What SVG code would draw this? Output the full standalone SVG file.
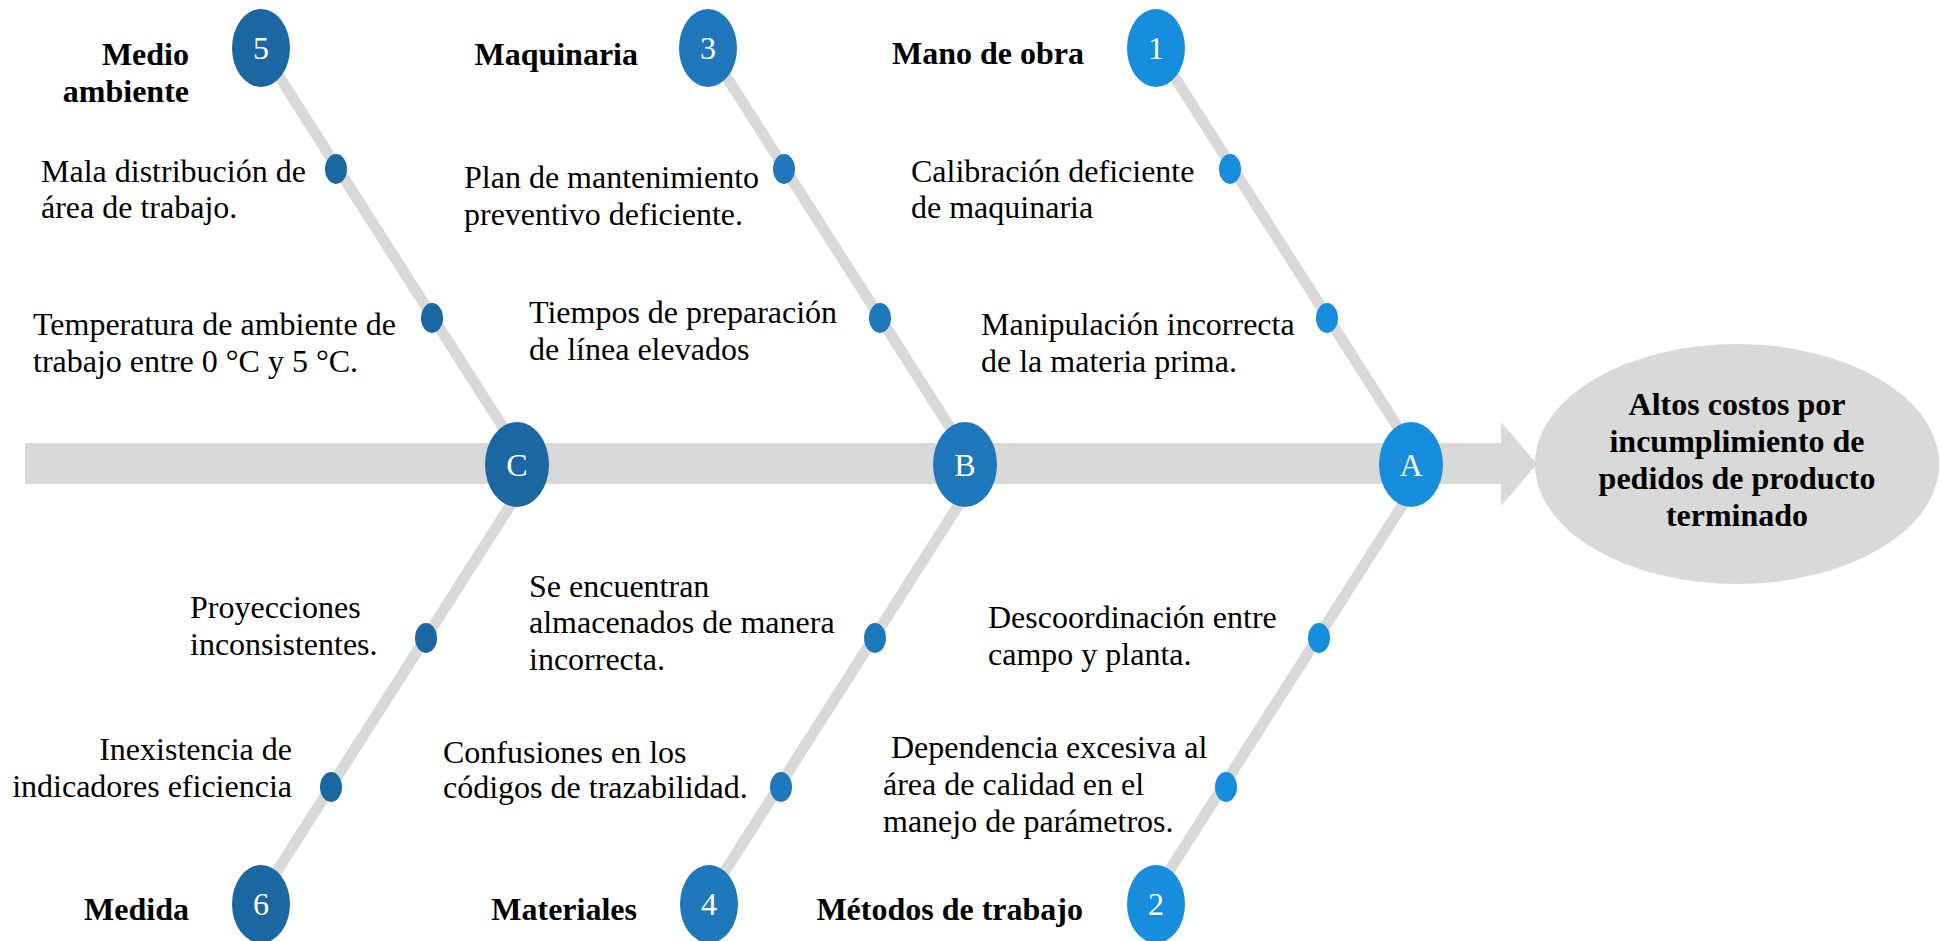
<svg xmlns="http://www.w3.org/2000/svg" width="1941" height="941" viewBox="0 0 1941 941">
<style>
.bone{stroke:#d9d9d9;stroke-width:11;fill:none}
.t{font-family:"Liberation Serif","Times New Roman",serif;font-size:32px;fill:#000}
.b{font-family:"Liberation Serif","Times New Roman",serif;font-size:32px;font-weight:bold;fill:#000}
.n{font-family:"Liberation Serif","Times New Roman",serif;font-size:32px;fill:#fff;text-anchor:middle}
.e{text-anchor:end}
.c1{fill:#178ddd}
.c3{fill:#1f78bc}
.c5{fill:#1b67a2}
</style>
<rect width="1941" height="941" fill="#fff"/>
<g id="connectors">
<path id="spine" d="M25,443 H1501 V422 L1537,464 L1501,506 V484 H25 Z" fill="#d9d9d9"/>
<line class="bone" x1="261" y1="48" x2="527" y2="465"/>
<line class="bone" x1="708" y1="48" x2="974" y2="465"/>
<line class="bone" x1="1156" y1="48" x2="1422" y2="465"/>
<line class="bone" x1="536" y1="465" x2="256" y2="904"/>
<line class="bone" x1="984" y1="465" x2="704" y2="904"/>
<line class="bone" x1="1428" y1="465" x2="1148" y2="904"/>
</g>
<g id="effect">
<ellipse cx="1737" cy="464" rx="202" ry="120" fill="#d9d9d9"/>
<text class="b" text-anchor="middle"><tspan x="1737" y="415">Altos costos por</tspan><tspan x="1737" y="452">incumplimiento de</tspan><tspan x="1737" y="489">pedidos de producto</tspan><tspan x="1737" y="526">terminado</tspan></text>
</g>
<g id="nodeA"><ellipse class="c1" cx="1411" cy="464.5" rx="32" ry="42.5"/><text class="n" x="1411" y="476">A</text></g>
<g id="nodeB"><ellipse class="c3" cx="965" cy="464.5" rx="32" ry="42.5"/><text class="n" x="965" y="476">B</text></g>
<g id="nodeC"><ellipse class="c5" cx="517" cy="464.5" rx="32" ry="42.5"/><text class="n" x="517" y="476">C</text></g>
<g id="cat1"><ellipse class="c1" cx="1156" cy="48" rx="29" ry="39"/><text class="n" x="1156" y="59">1</text><text class="b e" x="1084" y="64">Mano de obra</text></g>
<g id="cat3"><ellipse class="c3" cx="708" cy="48" rx="29" ry="39"/><text class="n" x="708" y="59">3</text><text class="b e" x="638" y="65">Maquinaria</text></g>
<g id="cat5"><ellipse class="c5" cx="261" cy="48" rx="29" ry="39"/><text class="n" x="261" y="59">5</text><text class="b e"><tspan x="189" y="65">Medio</tspan><tspan x="189" y="102">ambiente</tspan></text></g>
<g id="cat2"><ellipse class="c1" cx="1156" cy="904" rx="29" ry="39"/><text class="n" x="1156" y="915">2</text><text class="b e" x="1083" y="920">Métodos de trabajo</text></g>
<g id="cat4"><ellipse class="c3" cx="709" cy="904" rx="29" ry="39"/><text class="n" x="709" y="915">4</text><text class="b e" x="637" y="920">Materiales</text></g>
<g id="cat6"><ellipse class="c5" cx="261" cy="904" rx="29" ry="39"/><text class="n" x="261" y="915">6</text><text class="b e" x="189" y="920">Medida</text></g>
<g id="cause5a"><ellipse class="c5" cx="336" cy="169" rx="11" ry="15"/><text class="t"><tspan x="41" y="182">Mala distribución de</tspan><tspan x="41" y="218">área de trabajo.</tspan></text></g>
<g id="cause5b"><ellipse class="c5" cx="432" cy="318" rx="11" ry="15"/><text class="t"><tspan x="33" y="335">Temperatura de ambiente de</tspan><tspan x="33" y="372">trabajo entre 0 °C y 5 °C.</tspan></text></g>
<g id="cause3a"><ellipse class="c3" cx="784" cy="169" rx="11" ry="15"/><text class="t"><tspan x="464" y="188">Plan de mantenimiento</tspan><tspan x="464" y="225">preventivo deficiente.</tspan></text></g>
<g id="cause3b"><ellipse class="c3" cx="880" cy="318" rx="11" ry="15"/><text class="t"><tspan x="529" y="323">Tiempos de preparación</tspan><tspan x="529" y="360">de línea elevados</tspan></text></g>
<g id="cause1a"><ellipse class="c1" cx="1230" cy="169" rx="11" ry="15"/><text class="t"><tspan x="911" y="182">Calibración deficiente</tspan><tspan x="911" y="218">de maquinaria</tspan></text></g>
<g id="cause1b"><ellipse class="c1" cx="1327" cy="318" rx="11" ry="15"/><text class="t"><tspan x="981" y="335">Manipulación incorrecta</tspan><tspan x="981" y="372">de la materia prima.</tspan></text></g>
<g id="cause6a"><ellipse class="c5" cx="426" cy="638" rx="11" ry="15"/><text class="t"><tspan x="190" y="618">Proyecciones</tspan><tspan x="190" y="655">inconsistentes.</tspan></text></g>
<g id="cause6b"><ellipse class="c5" cx="331" cy="787" rx="11" ry="15"/><text class="t e"><tspan x="292" y="760">Inexistencia de</tspan><tspan x="292" y="797">indicadores eficiencia</tspan></text></g>
<g id="cause4a"><ellipse class="c3" cx="875" cy="638" rx="11" ry="15"/><text class="t"><tspan x="529" y="597">Se encuentran</tspan><tspan x="529" y="633">almacenados de manera</tspan><tspan x="529" y="670">incorrecta.</tspan></text></g>
<g id="cause4b"><ellipse class="c3" cx="781" cy="787" rx="11" ry="15"/><text class="t"><tspan x="443" y="763">Confusiones en los</tspan><tspan x="443" y="798">códigos de trazabilidad.</tspan></text></g>
<g id="cause2a"><ellipse class="c1" cx="1319" cy="638" rx="11" ry="15"/><text class="t"><tspan x="988" y="628">Descoordinación entre</tspan><tspan x="988" y="665">campo y planta.</tspan></text></g>
<g id="cause2b"><ellipse class="c1" cx="1226" cy="787" rx="11" ry="15"/><text class="t"><tspan x="891" y="758">Dependencia excesiva al</tspan><tspan x="883" y="795">área de calidad en el</tspan><tspan x="883" y="832">manejo de parámetros.</tspan></text></g>
</svg>
